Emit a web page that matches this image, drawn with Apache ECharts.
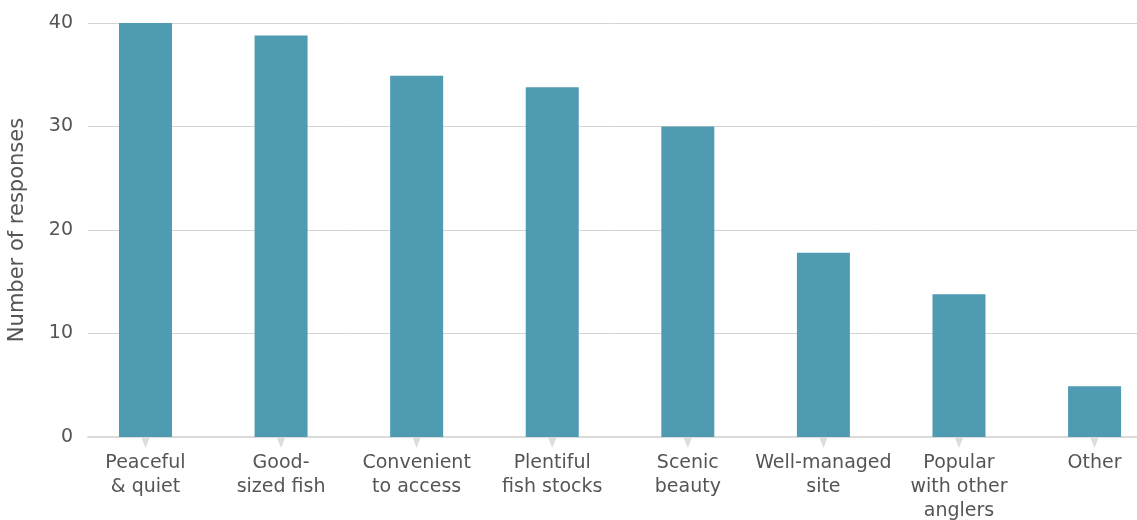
<!DOCTYPE html>
<html><head><meta charset="utf-8">
<style>html,body{margin:0;padding:0;background:#fff}#c{width:1137px;height:520px}</style>
<script src="https://cdn.jsdelivr.net/npm/echarts@6/dist/echarts.min.js"></script>
</head><body><div id="c"></div>
<script>
const categories = ["Peaceful\n& quiet","Good-\nsized fish","Convenient\nto access","Plentiful\nfish stocks","Scenic\nbeauty","Well-managed\nsite","Popular\nwith other\nanglers","Other"];
const responses = [40, 38.8, 34.9, 33.8, 30, 17.8, 13.8, 4.9];
const yTicks = [0, 10, 20, 30, 40];

const idx = categories.map((_, i) => i);
const chart = echarts.init(document.getElementById('c'), null, {renderer:'canvas'});
const font = "'DejaVu Sans', sans-serif";
chart.setOption({
  animation:false,
  grid:{left:88, right:0, top:23, bottom:83, containLabel:false, outerBoundsMode:'none'},
  xAxis:{
    type:'value', min:-0.424, max:7.313,
    splitLine:{show:false},
    axisLine:{show:true, onZero:false, lineStyle:{color:'#dadada', width:2}},
    axisTick:{show:false},
    axisLabel:{customValues:idx, formatter:v=>categories[Math.round(v)], color:'#555', fontSize:19, fontFamily:font, lineHeight:24, margin:14, verticalAlign:'top', showMinLabel:true, showMaxLabel:true, hideOverlap:false}
  },
  yAxis:{
    type:'value', min:0, max:40, interval:10,
    name:'Number of responses', nameLocation:'middle', nameGap:60, nameRotate:90,
    nameTextStyle:{color:'#555', fontSize:21, fontFamily:font},
    axisLine:{show:false}, axisTick:{show:false},
    axisLabel:{color:'#555', fontSize:19, fontFamily:font, margin:15, customValues:yTicks},
    splitLine:{show:true, lineStyle:{color:'#d4d4d4', width:1}}
  },
  series:[
    {type:'bar', data:responses.map((v,i)=>[i,v]), barWidth:53, itemStyle:{color:'#4f9cb2'}, z:2},
    {type:'scatter', data:idx.map(i=>[i,0]), symbol:'triangle', symbolSize:[8,10], symbolRotate:180, symbolOffset:[0,6], itemStyle:{color:'#d4d4d4'}, clip:false, silent:true, z:3}
  ]
});
</script></body></html>
